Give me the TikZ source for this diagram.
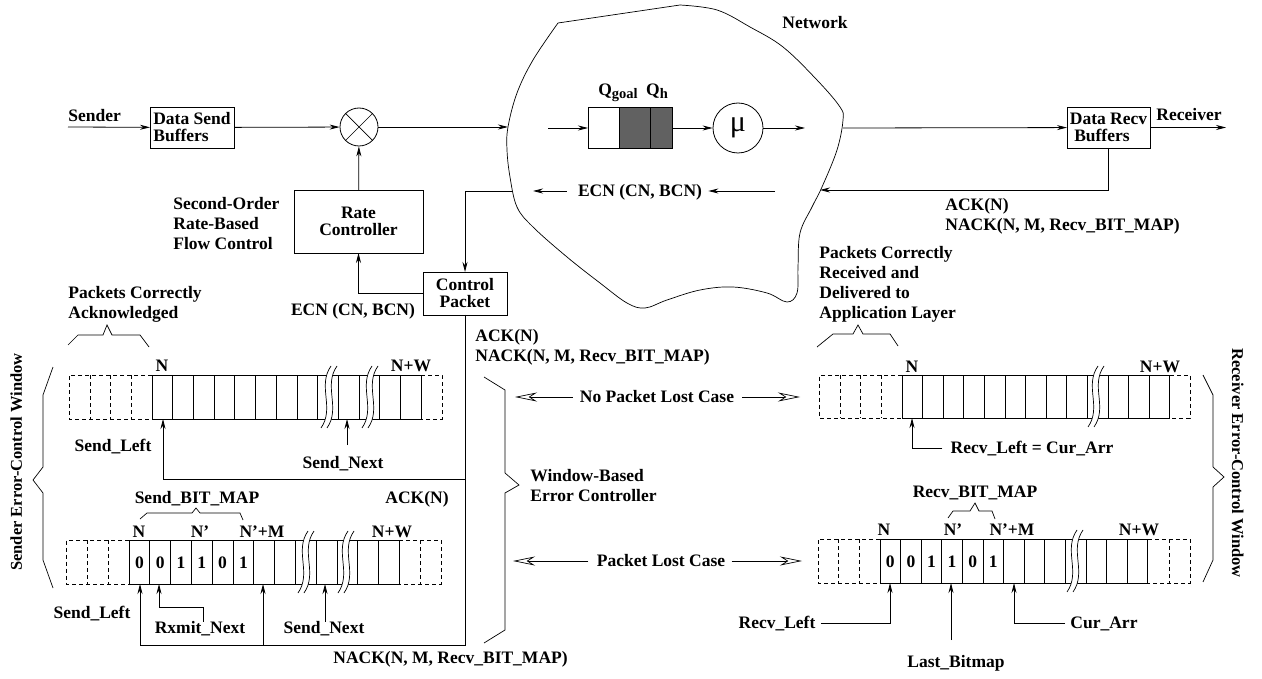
\documentclass[tikz,border=0pt]{standalone}
\usepackage{fontspec}
\setmainfont{Liberation Serif}
\usetikzlibrary{arrows.meta}
\definecolor{qgray}{gray}{0.38}
% wavy cut through a window: x, top, bottom
\newcommand{\winbreak}[3]{%
  \fill[white] (#1-6,#3+9) .. controls (#1+8,#3-11) and (#1-10,#2+11) .. (#1+4,#2-9)
    -- (#1+10,#2-9) .. controls (#1-4,#2+11) and (#1+14,#3-11) .. (#1,#3+9) -- cycle;
  \draw[cell] (#1-6,#3+9) .. controls (#1+8,#3-11) and (#1-10,#2+11) .. (#1+4,#2-9);
  \draw[cell] (#1,#3+9) .. controls (#1+14,#3-11) and (#1-4,#2+11) .. (#1+10,#2-9);
}
\begin{document}
\begin{tikzpicture}[x=1pt, y=-1pt, line width=0.8pt,
    >={Stealth[length=10pt, width=5pt]},
    font=\fontsize{17.5}{20}\selectfont\bfseries,
    box/.style = {draw, inner sep=2pt, outer sep=0pt, font=\fontsize{17.5}{17}\selectfont\bfseries},
    lbl/.style = {inner sep=0pt, text height=11.6pt, text depth=0pt},
    para/.style = {inner sep=0pt, align=left},
    cell/.style = {line width=0.7pt},
    gap/.style = {cell, dash pattern=on 4pt off 3pt},
    big/.style = {-{Stealth[open, length=22pt, width=9pt, inset=7pt]}, line width=0.7pt}]
\useasboundingbox (0,0) rectangle (1262,679);

% sender and rate control
\node[lbl, anchor=west] (sender) at (68,116) {Sender};
\coordinate (sin) at (68,127);
\node[box, minimum width=84pt, minimum height=41pt, align=left] (sbuf) at (192,127.5) {Data Send\\Buffers};
\node[draw, circle, minimum size=38pt, inner sep=0pt] (mix) at (359,127) {};
\draw[cell] (mix.45) -- (mix.225) (mix.135) -- (mix.315);
\draw[->] (sin) -- (sbuf);
\draw[->] (sbuf) -- (mix);
\node[box, minimum width=129pt, minimum height=63pt, align=center] (rate) at (358.5,221.5) {Rate\\Controller};
\node[para, anchor=west] (sofc) at (173,224) {Second-Order\\Rate-Based\\Flow Control};
\draw[->] (rate) -- (mix);
\node[box, minimum width=84pt, minimum height=43pt, align=center] (ctrl) at (465,293.5) {Control\\Packet};
\draw[->] (ctrl.west) -| (rate.south);
\node[lbl] (ecn1) at (353,310) {ECN (CN, BCN)};

% network
\draw[cell] plot[smooth, tension=0.6] coordinates {(558,23) (533,60) (517,93) (508,127)
  (507,150) (510,177) (517,207) (533,227) (567,257) (600,283) (627,303) (645,308)
  (667,300) (700,290) (733,287) (767,293) (787,302) (797,293) (798,267) (800,233)
  (812,207) (822,187) (837,150) (843,120) (840,107) (817,80) (783,47) (750,27)
  (717,10) (680,5)} -- cycle;
\node[lbl] (net) at (815,23) {Network};
\coordinate (netin) at (508,127);
\draw[->] (mix) -- (netin);
\coordinate (qin) at (548,128);
\node[draw, cell, minimum width=31pt, minimum height=41pt, inner sep=0pt, outer sep=0pt, anchor=west] (q1) at (588,128) {};
\node[draw, cell, fill=qgray, minimum width=31pt, minimum height=41pt, inner sep=0pt, outer sep=0pt, anchor=west] (q2) at (q1.east) {};
\node[draw, cell, fill=qgray, minimum width=22pt, minimum height=41pt, inner sep=0pt, outer sep=0pt, anchor=west] (q3) at (q2.east) {};
\node[lbl] (qgoal) at (618,90) {Q\raisebox{-0.35ex}{\fontsize{14.5}{14.5}\selectfont goal}};
\node[lbl] (qh) at (657,90) {Q\raisebox{-0.35ex}{\fontsize{14.5}{14.5}\selectfont h}};
\draw[->] (qin) -- (q1);
\node[draw, circle, minimum size=50pt, inner sep=0pt] (mu) at (738,128) {\fontsize{30}{30}\selectfont\mdseries μ};
\draw[->] (q3) -- (mu);
\coordinate (muout) at (805,128);
\draw[->] (mu) -- (muout);
\node[lbl] (ecn2) at (640,191) {ECN (CN, BCN)};
\coordinate (ecnr) at (775,191);
\coordinate (ecnl) at (533,191);
\draw[->] (ecnr) -- ([xshift=6pt]ecn2.east);
\draw[->] ([xshift=-11pt]ecn2.west) -- (ecnl);
\coordinate (netecn) at (512,191);
\draw[->] (netecn) -| (ctrl);

% receiver
\coordinate (netout) at (843,128);
\node[box, minimum width=83pt, minimum height=41pt, align=left] (rbuf) at (1108.5,127.5) {Data Recv\\\ Buffers};
\draw[->] (netout) -- (rbuf);
\node[lbl] (recv) at (1189,115) {Receiver};
\coordinate (rout) at (1226,127.5);
\draw[->] (rbuf) -- (rout);
\coordinate (netfb) at (820,190);
\draw[->] (rbuf.south) |- (netfb);
\node[para, anchor=west] (acknack1) at (945,216) {ACK(N)\\NACK(N, M, Recv\_BIT\_MAP)};

% feedback to the sender windows
\coordinate (s1turn) at (163,479);
\coordinate (s1left) at (163,419);
\draw[->] (ctrl.south) |- (s1turn) -- (s1left);
\coordinate (s2turn) at (140,645);
\coordinate (s2left) at (140,584);
\draw[->] (ctrl.south) |- (s2turn) -- (s2left);
\coordinate (s2mid) at (263,645);
\coordinate (s2nm) at (263,584);
\draw[->] (s2mid) -- (s2nm);
\node[para, anchor=west] (acknack2) at (475,347) {ACK(N)\\NACK(N, M, Recv\_BIT\_MAP)};
\node[lbl] (ack3) at (417,498) {ACK(N)};
\node[lbl, anchor=west] (nack3) at (333,658) {NACK(N, M, Recv\_BIT\_MAP)};

% sender window, no packet lost
\draw[cell] (68,345) -- (78,335) -- (103,335) -- (107,325) -- (112,335) -- (140,335) -- (149,347);
\node[para, anchor=west] (ackd) at (68,304) {Packets Correctly\\Acknowledged};
\draw[cell] (152,375) rectangle (421,419);
\foreach \k in {1,...,12} \draw[cell] ({152+20.7*\k},375) -- ++(0,44);
\draw[gap] (152,375) -- (69,375) -- (69,419) -- (152,419);
\foreach \k in {1,2,3} \draw[gap] ({152-20.7*\k},375) -- ++(0,44);
\draw[gap] (421,375) -- (442,375) -- (442,419) -- (421,419);
\winbreak{327}{375}{419}
\winbreak{368}{375}{419}
\node[lbl] (s1n) at (162,366) {N};
\node[lbl] (s1nw) at (411,366) {N+W};
\node[lbl] (sleft1) at (113,446) {Send\_Left};
\node[lbl] (snext1) at (343,463) {Send\_Next};
\coordinate (s1foot) at (347,445);
\coordinate (s1next) at (347,419);
\draw[->] (s1foot) -- (s1next);

% sender window, packet lost
\node[lbl] (sbm) at (197,498) {Send\_BIT\_MAP};
\draw[cell] (140,519) -- (147,513) -- (192,513) -- (196,508) -- (200,513) -- (240,513) -- (243,520);
\draw[cell] (129,540) rectangle (399.4,584);
\foreach \k in {1,...,12} \draw[cell] ({129+20.8*\k},540) -- ++(0,44);
\draw[gap] (129,540) -- (66.6,540) -- (66.6,584) -- (129,584);
\foreach \k in {1,2} \draw[gap] ({129-20.8*\k},540) -- ++(0,44);
\draw[gap] (399.4,540) -- (441,540) -- (441,584) -- (399.4,584);
\draw[gap] (420.2,540) -- ++(0,44);
\winbreak{304}{540}{584}
\winbreak{344}{540}{584}
\foreach \b [count=\k] in {0,0,1,1,0,1}
  \node[lbl] (sbit\k) at ({129+20.8*(\k-0.5)},563) {\b};
\node[lbl] (s2n) at (139,532) {N};
\node[lbl] (s2np) at (200,532) {N'};
\node[lbl] (s2npm) at (262,532) {N'+M};
\node[lbl] (s2nw) at (392,532) {N+W};
\node[lbl] (sleft2) at (92,613) {Send\_Left};
\node[lbl] (rxmit) at (200,628) {Rxmit\_Next};
\coordinate (rxbend) at (203,607);
\coordinate (s2rx) at (159,584);
\draw[->] (rxmit.north -| rxbend) -- (rxbend) -| (s2rx);
\node[lbl] (snext2) at (324,628) {Send\_Next};
\coordinate (s2next) at (325,584);
\draw[->] (snext2.north -| s2next) -- (s2next);

% sender side label
\draw[cell] (53,367) -- (43,395) -- (43,467) -- (33,480) -- (43,493) -- (43,560) -- (53,588);
\node[lbl, rotate=90, font=\fontsize{16.5}{20}\selectfont\bfseries] (swin) at (16,462) {Sender Error-Control Window};

% window-based error controller
\draw[cell] (484,377) -- (505,390) -- (505,473) -- (519,485) -- (505,493) -- (505,630) -- (484,643);
\node[para, anchor=west] (wbec) at (530,486) {Window-Based\\Error Controller};
\node[lbl] (nolost) at (657,397) {No Packet Lost Case};
\coordinate (nolostl) at (515,397);
\coordinate (nolostr) at (800,397);
\draw[big] ([xshift=-7pt]nolost.west) -- (nolostl);
\draw[big] ([xshift=8pt]nolost.east) -- (nolostr);
\node[lbl] (lost) at (661,561) {Packet Lost Case};
\coordinate (lostl) at (513,561);
\coordinate (lostr) at (802,561);
\draw[big] ([xshift=-8pt]lost.west) -- (lostl);
\draw[big] ([xshift=6pt]lost.east) -- (lostr);

% receiver window, no packet lost
\draw[cell] (817,347) -- (833,334) -- (853,334) -- (858,325) -- (863,334) -- (890,334) -- (898,346);
\node[para, anchor=west] (deliv) at (819,284) {Packets Correctly\\Received and\\Delivered to\\Application Layer};
\draw[cell] (902,375) rectangle (1169.8,418);
\foreach \k in {1,...,12} \draw[cell] ({902+20.6*\k},375) -- ++(0,43);
\draw[gap] (902,375) -- (819.6,375) -- (819.6,418) -- (902,418);
\foreach \k in {1,2,3} \draw[gap] ({902-20.6*\k},375) -- ++(0,43);
\draw[gap] (1169.8,375) -- (1190,375) -- (1190,418) -- (1169.8,418);
\winbreak{1094}{375}{418}
\node[lbl] (r1n) at (912,367) {N};
\node[lbl] (r1nw) at (1160,367) {N+W};
\node[lbl] (rleft1) at (1032,448) {Recv\_Left = Cur\_Arr};
\coordinate (r1left) at (912,418);
\draw[->] ([xshift=-8pt]rleft1.west) -| (r1left);

% receiver window, packet lost
\node[lbl] (rbm) at (975,492) {Recv\_BIT\_MAP};
\draw[cell] (948,518) -- (953,511) -- (970,511) -- (975,503) -- (979,511) -- (992,511) -- (995,519);
\draw[cell] (880,539) rectangle (1147.8,583);
\foreach \k in {1,...,12} \draw[cell] ({880+20.6*\k},539) -- ++(0,44);
\draw[gap] (880,539) -- (818.2,539) -- (818.2,583) -- (880,583);
\foreach \k in {1,2} \draw[gap] ({880-20.6*\k},539) -- ++(0,44);
\draw[gap] (1147.8,539) -- (1190,539) -- (1190,583) -- (1147.8,583);
\draw[gap] (1169,539) -- ++(0,44);
\winbreak{1073}{539}{583}
\foreach \b [count=\k] in {0,0,1,1,0,1}
  \node[lbl] (rbit\k) at ({880+20.6*(\k-0.5)},562) {\b};
\node[lbl] (r2n) at (884,530) {N};
\node[lbl] (r2np) at (953,530) {N'};
\node[lbl] (r2npm) at (1012,530) {N'+M};
\node[lbl] (r2nw) at (1139,530) {N+W};
\node[lbl] (rleft2) at (777,623) {Recv\_Left};
\coordinate (r2left) at (890,583);
\draw[->] ([xshift=5pt]rleft2.east) -| (r2left);
\node[lbl] (lastbm) at (956,662) {Last\_Bitmap};
\coordinate (r2foot) at (951,640);
\coordinate (r2last) at (951,583);
\draw[->] (r2foot) -- (r2last);
\node[lbl] (curarr) at (1104,623) {Cur\_Arr};
\coordinate (r2cur) at (1014,583);
\draw[->] ([xshift=-5pt]curarr.west) -| (r2cur);

% receiver side label
\draw[cell] (1203,375) -- (1213,395) -- (1213,467) -- (1224,477) -- (1213,487) -- (1213,560) -- (1203,582);
\node[lbl, rotate=-90, font=\fontsize{16.5}{20}\selectfont\bfseries] (rwin) at (1238,463) {Receiver Error-Control Window};
\end{tikzpicture}
\end{document}
